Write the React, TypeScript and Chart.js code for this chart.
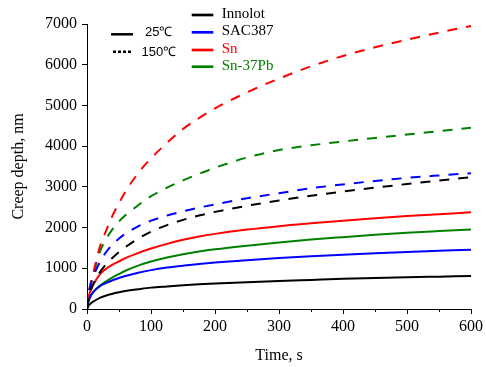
import React, { useEffect, useRef } from "react";
import { Chart, registerables } from "chart.js";

Chart.register(...registerables);

const times = [0, 2, 5, 10, 20, 30, 40, 50, 60, 80, 100, 125, 150, 175, 200, 250, 300, 350, 400, 450, 500, 550, 600];

const innolot25 = [0, 70, 125, 185, 275, 330, 375, 410, 440, 485, 525, 555, 582, 605, 625, 660, 690, 715, 740, 760, 780, 795, 810];
const sac25 = [0, 170, 300, 420, 560, 640, 705, 760, 810, 890, 955, 1017, 1065, 1105, 1140, 1200, 1250, 1295, 1335, 1370, 1402, 1430, 1455];
const sn25 = [0, 250, 430, 600, 850, 990, 1090, 1170, 1250, 1375, 1485, 1600, 1700, 1780, 1845, 1950, 2035, 2105, 2170, 2228, 2282, 2330, 2375];
const snpb25 = [0, 170, 300, 420, 570, 680, 775, 860, 940, 1065, 1165, 1265, 1345, 1410, 1465, 1555, 1635, 1705, 1765, 1822, 1872, 1915, 1955];

const innolot150 = [0, 230, 420, 620, 900, 1100, 1260, 1400, 1520, 1730, 1900, 2060, 2190, 2295, 2385, 2535, 2665, 2780, 2885, 2980, 3070, 3155, 3235];
const sac150 = [0, 330, 560, 800, 1150, 1400, 1590, 1730, 1850, 2030, 2170, 2295, 2400, 2490, 2570, 2720, 2845, 2965, 3060, 3145, 3220, 3280, 3335];
const sn150 = [0, 320, 580, 900, 1520, 1930, 2300, 2600, 2880, 3340, 3700, 4080, 4420, 4690, 4930, 5320, 5660, 5960, 6215, 6430, 6615, 6790, 6950];
const snpb150 = [0, 300, 550, 850, 1400, 1720, 1960, 2150, 2300, 2550, 2770, 2980, 3160, 3320, 3470, 3720, 3905, 4020, 4115, 4200, 4285, 4370, 4450];

const alloyNames = ["Innolot", "SAC387", "Sn", "Sn-37Pb"];
const alloyColors = ["#000000", "#0000ff", "#ff0000", "#008000"];
const alloyTextColors = ["#000000", "#000000", "#ff0000", "#008000"];
const tempLabels = ["25\u2103", "150\u2103"];
const minorXTicks = [50, 150, 250, 350, 450, 550];

const series25 = [innolot25, sac25, sn25, snpb25];
const series150 = [innolot150, sac150, sn150, snpb150];

const SERIF = "Liberation Serif";

const toPts = (ys: number[]) => times.map((t, i) => ({ x: t, y: ys[i] }));

const legendPlugin = {
  id: "customLegend",
  afterDraw(chart: any) {
    const ctx = chart.ctx;
    ctx.save();
    const xs = chart.scales.x;
    const yb = chart.chartArea.bottom;
    ctx.strokeStyle = "#000";
    ctx.lineWidth = 1;
    minorXTicks.forEach((v) => {
      const px = Math.round(xs.getPixelForValue(v)) + 0.5;
      ctx.beginPath();
      ctx.moveTo(px, yb);
      ctx.lineTo(px, yb + 3);
      ctx.stroke();
    });
    ctx.lineWidth = 2.5;
    ctx.strokeStyle = "#000";
    ctx.setLineDash([]);
    ctx.beginPath();
    ctx.moveTo(111, 34.3);
    ctx.lineTo(133, 34.3);
    ctx.stroke();
    ctx.setLineDash([3, 2]);
    ctx.beginPath();
    ctx.moveTo(113, 51.7);
    ctx.lineTo(133, 51.7);
    ctx.stroke();
    ctx.setLineDash([]);
    ctx.fillStyle = "#000";
    ctx.font = "13px 'Liberation Sans', Arial, sans-serif";
    ctx.textBaseline = "middle";
    ctx.textAlign = "left";
    ctx.fillText(tempLabels[0], 145, 32);
    ctx.fillText(tempLabels[1], 141.5, 52);
    const ys = [15, 32.3, 50, 66.7];
    ctx.font = "15px 'Liberation Serif', serif";
    alloyNames.forEach((n, i) => {
      ctx.strokeStyle = alloyColors[i];
      ctx.lineWidth = 2.7;
      ctx.beginPath();
      ctx.moveTo(191.7, ys[i]);
      ctx.lineTo(213.3, ys[i]);
      ctx.stroke();
      ctx.fillStyle = alloyTextColors[i];
      ctx.fillText(n, 221.7, ys[i] - 1);
    });
    ctx.restore();
  },
};

export default function App() {
  const ref = useRef<HTMLCanvasElement | null>(null);
  useEffect(() => {
    if (!ref.current) return;
    Chart.defaults.font.family = SERIF;
    const datasets: any[] = [];
    series150.forEach((s, i) => {
      datasets.push({
        label: alloyNames[i] + " " + tempLabels[1],
        data: toPts(s),
        borderColor: alloyColors[i],
        borderWidth: 2,
        borderDash: [10, 9],
        pointRadius: 0,
        cubicInterpolationMode: "monotone",
        fill: false,
      });
    });
    series25.forEach((s, i) => {
      datasets.push({
        label: alloyNames[i] + " " + tempLabels[0],
        data: toPts(s),
        borderColor: alloyColors[i],
        borderWidth: 2,
        pointRadius: 0,
        cubicInterpolationMode: "monotone",
        fill: false,
      });
    });
    const chart = new Chart(ref.current, {
      type: "line",
      data: { datasets },
      options: {
        animation: false,
        responsive: false,
        layout: { padding: { left: 0, right: 13, top: 24, bottom: 0 } },
        plugins: { legend: { display: false }, tooltip: { enabled: false } },
        scales: {
          x: {
            type: "linear",
            min: 0,
            max: 600,
            ticks: {
              stepSize: 100,
              color: "#000",
              font: { family: SERIF, size: 16 },
              padding: 3,
              maxRotation: 0,
              callback: (v: any) => String(v),
            },
            grid: { drawOnChartArea: false, tickLength: 5, color: "#000" },
            border: { color: "#000", width: 1 },
            title: { display: true, text: "Time, s", color: "#000", font: { family: SERIF, size: 16, lineHeight: 1.2 }, padding: { top: 0, bottom: 1.7 } },
            afterFit: (s: any) => { s.height = 58; },
          },
          y: {
            min: 0,
            max: 7000,
            ticks: {
              stepSize: 1000,
              color: "#000",
              font: { family: SERIF, size: 16 },
              padding: 5,
              callback: (v: any) => String(v),
            },
            grid: { drawOnChartArea: false, tickLength: 5, color: "#000" },
            border: { color: "#000", width: 1 },
            title: { display: true, text: "Creep depth, nm", color: "#000", font: { family: SERIF, size: 16, lineHeight: 1.2 }, padding: { top: 8.7, bottom: 0 } },
            afterFit: (s: any) => { s.width = 87; },
          },
        },
      },
      plugins: [legendPlugin],
    } as any);
    return () => chart.destroy();
  }, []);
  return (
    <div style={{ position: "absolute", left: 0, top: 0, width: 486, height: 367, background: "#fff" }}>
      <canvas ref={ref} width={486} height={367} />
    </div>
  );
}
